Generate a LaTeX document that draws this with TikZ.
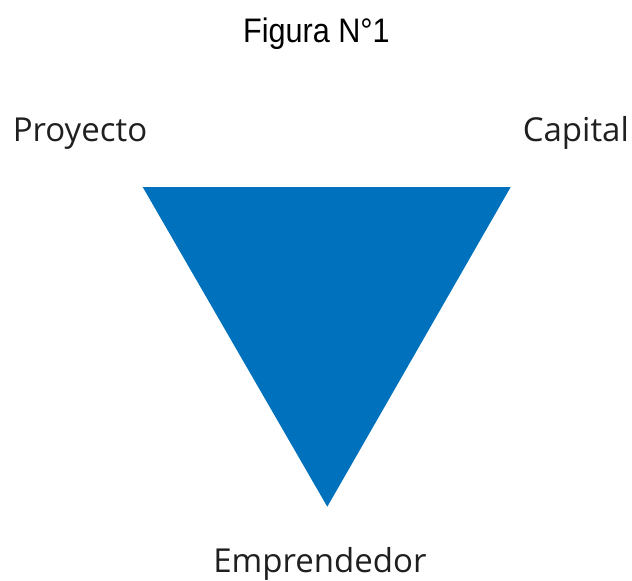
\documentclass[tikz,border=0pt]{standalone}
\usepackage{fontspec}
\setmainfont{Liberation Sans}
\newfontfamily\labelfont{Open Sans}
\definecolor{triblue}{RGB}{0,113,188}
\tikzset{
  title/.style={inner sep=0pt, anchor=base, font=\fontsize{34}{40}\selectfont, text=black},
  vlabel/.style={inner sep=0pt, anchor=base, font=\labelfont\fontsize{33}{38}\selectfont, text=black!88},
}
\begin{document}
\begin{tikzpicture}[x=1pt,y=-1pt]
\useasboundingbox (0,0) rectangle (632,581);
\coordinate (tl) at (142.7,187);
\coordinate (tr) at (510.7,187);
\coordinate (bt) at (327.3,506.7);
\fill[triblue] (tl) -- (tr) -- (bt) -- cycle;
\node[title] (fig) at (316.5,42) {\scalebox{0.9}[1]{Figura N°1}};
\node[vlabel] (proy) at (80,141.7) {Proyecto};
\node[vlabel] (cap) at (575.8,141.7) {Capital};
\node[vlabel] (emp) at (320,572.3) {Emprendedor};
\end{tikzpicture}
\end{document}
